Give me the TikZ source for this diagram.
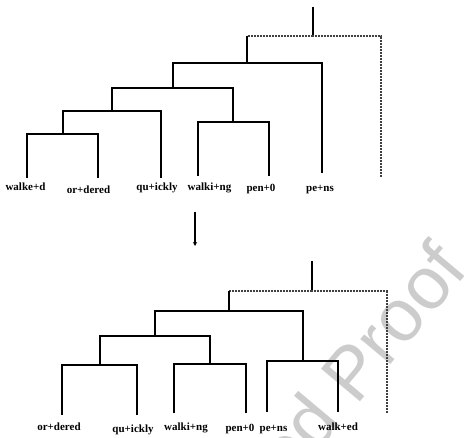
\documentclass[tikz,border=0pt]{standalone}
\usepackage{fontspec}
\setmainfont{Liberation Serif}
\newfontfamily\wmfont{Liberation Sans}
\usetikzlibrary{arrows.meta}
\tikzset{
  branch/.style={line width=1.3pt, black},
  dotbranch/.style={line width=1.2pt, black!75, dash pattern=on 0.9pt off 0.6pt},
  leaflabel/.style={anchor=base, inner sep=0pt, font=\bfseries\fontsize{11}{13}\selectfont},
  watermark/.style={anchor=base west, rotate=50, inner sep=0pt, text=black!20, font=\wmfont\fontsize{74}{80}\selectfont}
}
\begin{document}
\begin{tikzpicture}[x=1pt,y=-1pt]
\useasboundingbox (0,0) rectangle (474,438);
\begin{scope}
\clip (0,0) rectangle (474,438);
\node[watermark] (wm) at (290,485) {ed Proof};
\end{scope}

% ---------- top tree ----------
\coordinate (ttop) at (313,7);
\coordinate (tr) at (313,36);
\coordinate (trl) at (247,36);
\coordinate (tn1) at (247,63);
\coordinate (tn2) at (173,88);
\coordinate (tn3) at (112,111);
\coordinate (tn4) at (233,122);
\coordinate (tn5) at (63,134);
\coordinate (tlwalked) at (27,178);
\coordinate (tlordered) at (98,178);
\coordinate (tlquickly) at (161,178);
\coordinate (tlwalking) at (198,176);
\coordinate (tlpen) at (269,176);
\coordinate (tlpens) at (322,173);
\coordinate (tldot) at (381,177);

\draw[branch] (ttop) -- (tr);
\draw[dotbranch] (tr) -- (trl);
\draw[dotbranch] (tr) -| (tldot);
\draw[branch] (trl) -- (tn1);
\draw[branch] (tn1) -| (tn2);
\draw[branch] (tn1) -| (tlpens);
\draw[branch] (tn2) -| (tn3);
\draw[branch] (tn2) -| (tn4);
\draw[branch] (tn4) -| (tlwalking);
\draw[branch] (tn4) -| (tlpen);
\draw[branch] (tn3) -| (tn5);
\draw[branch] (tn3) -| (tlquickly);
\draw[branch] (tn5) -| (tlwalked);
\draw[branch] (tn5) -| (tlordered);

\node[leaflabel] (lwalked) at (25.5,191) {walke+d};
\node[leaflabel] (lordered) at (88.5,194) {or+dered};
\node[leaflabel] (lquickly) at (157,191) {qu+ickly};
\node[leaflabel] (lwalking) at (209.5,191) {walki+ng};
\node[leaflabel] (lpen) at (261,192) {pen+0};
\node[leaflabel] (lpens) at (320,192) {pe+ns};

% ---------- arrow ----------
\coordinate (atop) at (195,212);
\coordinate (abot) at (195,246);
\draw[line width=1.1pt, -{Stealth[length=4pt,width=4pt]}] (atop) -- (abot);

% ---------- bottom tree ----------
\coordinate (btop) at (312,261);
\coordinate (br) at (312,291);
\coordinate (brl) at (229,291);
\coordinate (bn1) at (229,311);
\coordinate (bn2) at (155,336);
\coordinate (bn3) at (303,361);
\coordinate (bn4) at (100,365);
\coordinate (bn5) at (210,364);
\coordinate (blordered) at (62,415);
\coordinate (blquickly) at (137,415);
\coordinate (blwalking) at (174,413);
\coordinate (blpen) at (246,413);
\coordinate (blpens) at (267,412);
\coordinate (blwalked) at (338,412);
\coordinate (bldot) at (387,413);

\draw[branch] (btop) -- (br);
\draw[dotbranch] (br) -- (brl);
\draw[dotbranch] (br) -| (bldot);
\draw[branch] (brl) -- (bn1);
\draw[branch] (bn1) -| (bn2);
\draw[branch] (bn1) -| (bn3);
\draw[branch] (bn3) -| (blpens);
\draw[branch] (bn3) -| (blwalked);
\draw[branch] (bn2) -| (bn4);
\draw[branch] (bn2) -| (bn5);
\draw[branch] (bn4) -| (blordered);
\draw[branch] (bn4) -| (blquickly);
\draw[branch] (bn5) -| (blwalking);
\draw[branch] (bn5) -| (blpen);

\node[leaflabel] (bordered) at (59,430.5) {or+dered};
\node[leaflabel] (bquickly) at (133,432) {qu+ickly};
\node[leaflabel] (bwalking) at (186,430) {walki+ng};
\node[leaflabel] (bpen) at (240,431) {pen+0};
\node[leaflabel] (bpens) at (273.5,431) {pe+ns};
\node[leaflabel] (bwalked) at (338,430) {walk+ed};
\end{tikzpicture}
\end{document}
